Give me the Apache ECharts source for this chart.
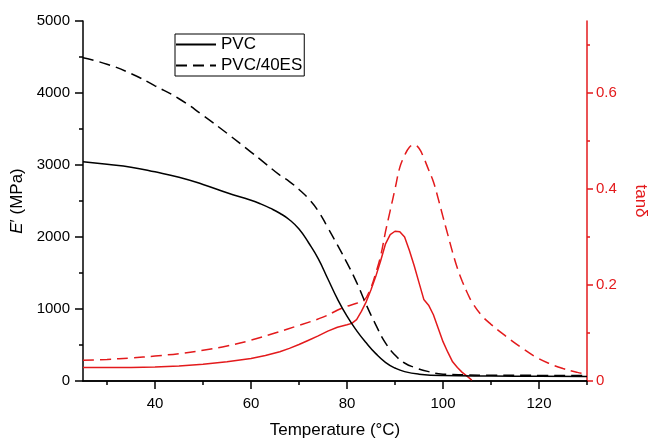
<!DOCTYPE html>
<html><head><meta charset="utf-8">
<script src="https://cdn.jsdelivr.net/npm/echarts@6/dist/echarts.min.js"></script>
<style>html,body{margin:0;padding:0;background:#fff}#c{width:649px;height:438px}</style>
</head><body><div id="c"></div>
<script>
// Storage modulus E' (MPa)
const pvcT = [25,30,35,40,45,50,55,60,62,64,66,68,70,72,74,76,78,80,82,84,86,88,90,92,95,100,110,120,130];
const pvcE = [3046,3010,2970,2905,2830,2730,2615,2510,2460,2400,2330,2240,2110,1920,1700,1420,1140,900,700,530,380,260,180,130,95,75,68,65,62];
const es40T = [25,30,35,40,45,50,55,60,63,66,68,70,72,74,76,78,80,82,84,86,88,90,92,94,97,100,105,110,120,130];
const es40E = [4490,4400,4270,4100,3920,3690,3440,3180,3020,2860,2770,2660,2530,2360,2130,1890,1640,1370,1060,780,530,360,250,190,130,95,85,80,78,76];
// tan delta
const tanPvcT = [25,30,35,40,45,50,55,60,63,66,68,70,72,74,76,78,80,81,82,83,84,85,86,87,88,89,90,91,92,93,94,95,96,97,98,99,100,101,102,103,104,105,106];
const tanPvc = [0.028,0.028,0.028,0.029,0.031,0.035,0.040,0.047,0.053,0.061,0.068,0.076,0.085,0.094,0.104,0.112,0.117,0.120,0.128,0.145,0.165,0.19,0.218,0.25,0.285,0.305,0.312,0.311,0.30,0.272,0.24,0.205,0.17,0.158,0.138,0.11,0.082,0.06,0.04,0.028,0.018,0.01,0.002];
const tan40T = [25,30,35,40,45,50,55,60,65,70,75,79,82,83.5,85,86,87,88,89,90,91,92,93,94,95,96,97,98,99,100,101,102,103,104,105,106,108,110,113,116,119,122,125,128,130];
const tan40 = [0.043,0.045,0.048,0.052,0.057,0.064,0.073,0.085,0.10,0.116,0.133,0.152,0.162,0.167,0.195,0.225,0.26,0.31,0.355,0.40,0.445,0.47,0.487,0.492,0.485,0.465,0.44,0.415,0.38,0.342,0.305,0.268,0.235,0.208,0.185,0.165,0.137,0.118,0.094,0.072,0.052,0.037,0.026,0.018,0.014];
// ticks
const xMajor = [40,60,80,100,120];
const xMinor = [30,50,70,90,110,130];
const tanMajor = [0,0.2,0.4,0.6];
const tanMinor = [0.1,0.3,0.5,0.7];
const seriesNames = ['PVC','PVC/40ES'];

const zip = (a,b) => a.map((v,i) => [v,b[i]]);
const FONT = 'Liberation Sans, Arial, sans-serif';
const RED = '#e31a1c';
const DASH = [11,6];

const chart = echarts.init(document.getElementById('c'), null, {renderer:'canvas'});
chart.setOption({
  animation:false,
  backgroundColor:'#fff',
  textStyle:{fontFamily:FONT},
  grid:{left:83,right:62,top:21,bottom:57,containLabel:false,outerBoundsMode:'none'},
  legend:{
    data:seriesNames, orient:'vertical', left:175, top:34,
    itemWidth:40, itemHeight:14, itemGap:4, padding:[2,2,2,0],
    borderColor:'#000', borderWidth:1,
    itemStyle:{opacity:0},
    textStyle:{fontSize:17, color:'#000', fontFamily:FONT, lineHeight:17}
  },
  xAxis:[
    {type:'value', min:25, max:130, position:'bottom',
     name:'Temperature (°C)', nameLocation:'middle', nameGap:41,
     nameTextStyle:{fontSize:17, color:'#000', fontFamily:FONT},
     axisLine:{lineStyle:{color:'#000', width:1.5}},
     axisTick:{customValues:xMajor, length:8, lineStyle:{color:'#000', width:1.5}},
     axisLabel:{customValues:xMajor, margin:15, fontSize:15, color:'#000', fontFamily:FONT},
     splitLine:{show:false}},
    {type:'value', min:25, max:130, position:'bottom',
     axisLine:{show:false},
     axisTick:{customValues:xMinor, length:4, lineStyle:{color:'#000', width:1.5}},
     axisLabel:{show:false}, splitLine:{show:false}},
    {type:'value', min:25, max:130, position:'top',
     axisLine:{lineStyle:{color:'#000', width:1.5}},
     axisTick:{show:false}, axisLabel:{show:false}, splitLine:{show:false}}
  ],
  yAxis:[
    {type:'value', min:0, max:5000, interval:1000, position:'left',
     name:'{i|E}{n|′ (MPa)}', nameLocation:'middle', nameGap:47,
     nameTextStyle:{fontSize:17, color:'#000', fontFamily:FONT,
       rich:{i:{fontStyle:'italic', fontSize:17, fontFamily:FONT, color:'#000'},
             n:{fontSize:17, fontFamily:FONT, color:'#000'}}},
     axisLine:{show:true, lineStyle:{color:'#000', width:1.5}},
     axisTick:{length:8, lineStyle:{color:'#000', width:1.5}},
     minorTick:{show:true, splitNumber:2, length:4, lineStyle:{color:'#000', width:1.5}},
     axisLabel:{margin:13, fontSize:15, color:'#000', fontFamily:FONT, formatter:v => String(v)},
     splitLine:{show:false}, minorSplitLine:{show:false}},
    {type:'value', min:0, max:0.75, position:'right',
     name:'tanδ', nameLocation:'middle', nameGap:45, nameRotate:-90,
     nameTextStyle:{fontSize:17, color:RED, fontFamily:FONT},
     axisLine:{show:true, lineStyle:{color:RED, width:1.5}},
     axisTick:{customValues:tanMajor, length:6, lineStyle:{color:RED, width:1.5}},
     axisLabel:{customValues:tanMajor, margin:9, fontSize:15, color:RED, fontFamily:FONT,
       formatter:v => v === 0 ? '0' : v.toFixed(1)},
     splitLine:{show:false}},
    {type:'value', min:0, max:0.75, position:'right',
     axisLine:{show:false},
     axisTick:{customValues:tanMinor, length:3, lineStyle:{color:RED, width:1.5}},
     axisLabel:{show:false}, splitLine:{show:false}}
  ],
  series:[
    {name:'PVC', type:'line', xAxisIndex:0, yAxisIndex:0, data:zip(pvcT,pvcE),
     symbol:'none', smooth:0.5, lineStyle:{color:'#000', width:1.5, type:'solid'}, itemStyle:{color:'#000'}, z:3},
    {name:'PVC/40ES', type:'line', xAxisIndex:0, yAxisIndex:0, data:zip(es40T,es40E),
     symbol:'none', smooth:0.5, lineStyle:{color:'#000', width:1.5, type:DASH}, itemStyle:{color:'#000'}, z:3},
    {name:'PVC tanδ', type:'line', xAxisIndex:0, yAxisIndex:1, data:zip(tanPvcT,tanPvc),
     symbol:'none', smooth:false, lineStyle:{color:RED, width:1.5, type:'solid'}, itemStyle:{color:RED}, z:2},
    {name:'PVC/40ES tanδ', type:'line', xAxisIndex:0, yAxisIndex:1, data:zip(tan40T,tan40),
     symbol:'none', smooth:0.4, lineStyle:{color:RED, width:1.5, type:DASH}, itemStyle:{color:RED}, z:2}
  ]
});
</script></body></html>
